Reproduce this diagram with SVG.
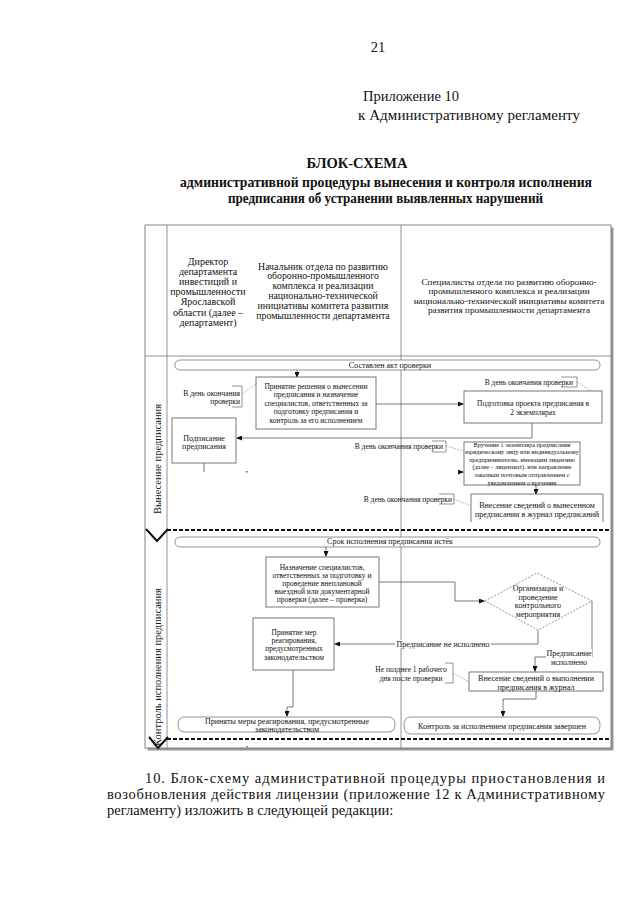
<svg xmlns="http://www.w3.org/2000/svg" width="640" height="905" viewBox="0 0 640 905">
<style>
.t{font-family:"Liberation Serif","Times New Roman",serif;fill:#111}
.c{text-anchor:middle;dominant-baseline:central}
.r{text-anchor:end;dominant-baseline:central}
.box{fill:#fff;stroke:#555;stroke-width:0.8}
.ev{fill:#fff;stroke:#666;stroke-width:0.7}
.conn{fill:none;stroke:#555;stroke-width:0.8}
.lane{fill:none;stroke:#777;stroke-width:0.8}
.dash{fill:none;stroke:#111;stroke-width:2;stroke-dasharray:4 2}
.chev{fill:none;stroke:#111;stroke-width:2}
.br{fill:none;stroke:#666;stroke-width:0.7}
.lead{fill:none;stroke:#666;stroke-width:0.6;stroke-dasharray:1.5 1.5}
.lbl{fill:#fff}
.f7{font-size:7.5px}
.f8{font-size:8px}
.f6{font-size:6.2px}
</style>
<defs>
<marker id="ah" markerWidth="6" markerHeight="5" refX="5" refY="2.5" orient="auto" markerUnits="userSpaceOnUse">
<path d="M0,0 L6,2.5 L0,5 Z" fill="#111"/>
</marker>
</defs>
<rect width="640" height="905" fill="#fff"/>

<!-- page header -->
<g id="page-header">
<text class="t" x="378" y="52" font-size="14.5" text-anchor="middle">21</text>
<text class="t" x="363" y="101" font-size="14.5">Приложение 10</text>
<text class="t" x="358" y="120" font-size="15" textLength="222" lengthAdjust="spacing">к Административному регламенту</text>
<text class="t" x="357" y="168" font-size="14.5" font-weight="bold" text-anchor="middle">БЛОК-СХЕМА</text>
<text class="t" x="180" y="187" font-size="13.8" font-weight="bold" textLength="412" lengthAdjust="spacingAndGlyphs">административной процедуры вынесения и контроля исполнения</text>
<text class="t" x="228" y="203" font-size="13.8" font-weight="bold" textLength="315" lengthAdjust="spacingAndGlyphs">предписания об устранении выявленных нарушений</text>
</g>

<!-- frame and lanes -->
<g id="frame">
<rect x="147.5" y="227.5" width="466" height="523" fill="#999"/>
<rect x="145" y="225" width="466" height="523" fill="#fff" stroke="#777" stroke-width="0.9"/>
<line class="lane" x1="167" y1="225" x2="167" y2="748"/>
<line class="lane" x1="401" y1="225" x2="401" y2="748"/>
<line class="lane" x1="145" y1="356" x2="611" y2="356"/>
<line class="dash" x1="167" y1="530" x2="611" y2="530"/>
<line class="dash" x1="167" y1="739" x2="611" y2="739"/>
<polyline class="chev" points="146,529 157,541 168,529"/>
<polyline class="chev" points="149,737 158,748 168,737"/>
<text class="t c" font-size="10.5" transform="translate(157,459) rotate(-90)">Вынесение предписания</text>
<text class="t c" font-size="10.5" transform="translate(157,667) rotate(-90)">Контроль исполнения предписания</text>
</g>

<!-- column headers -->
<g id="hdr-director">
<text class="t c" font-size="10" x="208" y="261">Директор</text>
<text class="t c" font-size="10" x="208" y="271">департамента</text>
<text class="t c" font-size="10" x="208" y="281">инвестиций и</text>
<text class="t c" font-size="10" x="208" y="291">промышленности</text>
<text class="t c" font-size="10" x="208" y="301">Ярославской</text>
<text class="t c" font-size="10" x="208" y="312">области (далее –</text>
<text class="t c" font-size="10" x="208" y="322">департамент)</text>
</g>
<g id="hdr-head">
<text class="t c" font-size="9.8" x="323" y="266">Начальник отдела по развитию</text>
<text class="t c" font-size="9.8" x="323" y="275.5">оборонно-промышленного</text>
<text class="t c" font-size="9.8" x="323" y="285">комплекса и реализации</text>
<text class="t c" font-size="9.8" x="323" y="295.5">национально-технической</text>
<text class="t c" font-size="9.8" x="323" y="305">инициативы комитета развития</text>
<text class="t c" font-size="9.8" x="323" y="315.5">промышленности департамента</text>
</g>
<g id="hdr-specialists">
<text class="t c" font-size="9.2" x="509" y="282">Специалисты отдела по развитию оборонно-</text>
<text class="t c" font-size="9.2" x="509" y="291">промышленного комплекса и реализации</text>
<text class="t c" font-size="9.2" x="509" y="300.5">национально-технической инициативы комитета</text>
<text class="t c" font-size="9.2" x="509" y="309.5">развития промышленности департамента</text>
</g>

<!-- connectors -->
<g id="connectors">
<path class="conn" d="M297,370 V377" marker-end="url(#ah)"/>
<path class="conn" d="M376,404 H463" marker-end="url(#ah)"/>
<path class="conn" d="M532,423 V438 H237" marker-end="url(#ah)"/>
<path class="conn" d="M204,463 V472"/>
<rect x="246" y="471" width="1.5" height="1.5" fill="#555"/>
<path class="conn" d="M458,472 H463" marker-end="url(#ah)"/>
<path class="conn" d="M536,485 V494" marker-end="url(#ah)"/>
<path class="conn" d="M326,547 V556" marker-end="url(#ah)"/>
<rect x="247" y="546" width="2" height="1" fill="#777"/>
<path class="conn" d="M379,582 H455 V601 H484" marker-end="url(#ah)"/>
<path class="conn" d="M538,630 V644 H335" marker-end="url(#ah)"/>
<path class="conn" d="M592,601 V657 H535 V671" marker-end="url(#ah)"/>
<path class="conn" d="M293,670 V707 H287 V716" marker-end="url(#ah)"/>
<path class="conn" d="M536,691 V699 H503 V716" marker-end="url(#ah)"/>
<rect x="246.5" y="746" width="1.5" height="1.5" fill="#777"/>
<rect class="lbl" x="395" y="640" width="96" height="8"/>
<text class="t c f8" x="443" y="644">Предписание не исполнено</text>
<rect class="lbl" x="546" y="649" width="46" height="17"/>
<text class="t c f8" x="569" y="653">Предписание</text>
<text class="t c f8" x="569" y="662">исполнено</text>
</g>

<!-- lane 1 -->
<g id="ev-act">
<path class="ev" d="M181,360 H594 Q600,360 600,365 Q600,370 594,370 H181 Q175,370 175,365 Q175,360 181,360 Z"/>
<text class="t c f8" x="390" y="365">Составлен акт проверки</text>
</g>
<g id="n-decision">
<rect class="box" x="256" y="377" width="120" height="52"/>
<text class="t c f7" x="316" y="386">Принятие решения о вынесении</text>
<text class="t c f7" x="316" y="394.5">предписания и назначение</text>
<text class="t c f7" x="316" y="403">специалистов, ответственных за</text>
<text class="t c f7" x="316" y="411.5">подготовку предписания и</text>
<text class="t c f7" x="316" y="420">контроль за его исполнением</text>
</g>
<g id="ann-1">
<text class="t r f7" x="240" y="393">В день окончания</text>
<text class="t r f7" x="240" y="401">проверки</text>
<path class="br" d="M232,386 H242 V407 H232"/>
<path class="lead" d="M242,394 L257,383"/>
</g>
<g id="n-sign">
<rect class="box" x="172" y="418" width="64" height="45"/>
<text class="t c f8" x="204" y="438">Подписание</text>
<text class="t c f8" x="204" y="446">предписания</text>
</g>
<g id="n-draft">
<rect class="box" x="464" y="391" width="138" height="32"/>
<text class="t c f7" x="533" y="403">Подготовка проекта предписания в</text>
<text class="t c f7" x="533" y="412">2 экземплярах</text>
</g>
<g id="ann-2">
<text class="t r f7" x="573" y="382">В день окончания проверки</text>
<path class="br" d="M561,377 H577 V387 H561"/>
<path class="lead" d="M577,382 L591,391"/>
</g>
<g id="n-deliver">
<rect class="box" x="464" y="442" width="116" height="43"/>
<text class="t c f6" x="522" y="444">Вручение 1 экземпляра предписания</text>
<text class="t c f6" x="522" y="451.6">юридическому лицу или индивидуальному</text>
<text class="t c f6" x="522" y="459.2">предпринимателю, имеющим лицензию</text>
<text class="t c f6" x="522" y="466.8">(далее – лицензиат), или направление</text>
<text class="t c f6" x="522" y="474.4">заказным почтовым отправлением с</text>
<text class="t c f6" x="522" y="482">уведомлением о вручении</text>
</g>
<g id="ann-3">
<text class="t r f7" x="443" y="446">В день окончания проверки</text>
<path class="br" d="M432,441 H446 V452 H432"/>
<path class="lead" d="M446,446 L464,451"/>
</g>
<g id="n-register">
<path class="box" d="M471,522 V494 H603 V522"/>
<text class="t c f8" x="537" y="505">Внесение сведений о вынесенном</text>
<text class="t c f8" x="537" y="514">предписании в журнал предписаний</text>
</g>
<g id="ann-4">
<text class="t r f7" x="452" y="499">В день окончания проверки</text>
<path class="br" d="M439,494 H454 V504 H439"/>
<path class="lead" d="M454,499 L471,506"/>
</g>

<!-- lane 2 -->
<g id="ev-deadline">
<path class="ev" d="M181,537 H594 Q600,537 600,542 Q600,547 594,547 H181 Q175,547 175,542 Q175,537 181,537 Z"/>
<text class="t c f8" x="390" y="541">Срок исполнения предписания истёк</text>
</g>
<g id="n-assign">
<rect class="box" x="266" y="557" width="113" height="50"/>
<text class="t c f7" x="322" y="567">Назначение специалистов,</text>
<text class="t c f7" x="322" y="575">ответственных за подготовку и</text>
<text class="t c f7" x="322" y="583">проведение внеплановой</text>
<text class="t c f7" x="322" y="591">выездной или документарной</text>
<text class="t c f7" x="322" y="599">проверки (далее – проверка)</text>
</g>
<g id="n-control">
<polygon points="485,601 537,573 592,601 538,630" fill="#fff" stroke="#666" stroke-width="0.7" stroke-dasharray="2 1.5"/>
<text class="t c f8" x="538" y="588">Организация и</text>
<text class="t c f8" x="538" y="597">проведение</text>
<text class="t c f8" x="538" y="605.5">контрольного</text>
<text class="t c f8" x="538" y="614">мероприятия</text>
</g>
<g id="n-measures">
<rect class="box" x="253" y="618" width="81" height="52"/>
<text class="t c f7" x="294" y="632">Принятие мер</text>
<text class="t c f7" x="294" y="640">реагирования,</text>
<text class="t c f7" x="294" y="648.5">предусмотренных</text>
<text class="t c f7" x="294" y="657">законодательством</text>
</g>
<g id="ann-5">
<text class="t c f7" x="411" y="669">Не позднее 1 рабочего</text>
<text class="t c f7" x="411" y="678">дня после проверки</text>
<path class="br" d="M445,663 H453 V683 H445"/>
<path class="lead" d="M453,673 L469,682"/>
</g>
<g id="n-record">
<rect class="box" x="469" y="672" width="134" height="19"/>
<text class="t c f8" x="536" y="678">Внесение сведений о выполнении</text>
<text class="t c f8" x="536" y="687">предписания в журнал</text>
</g>
<g id="ev-measures">
<path class="ev" d="M185,717 H388 Q395,717 395,724.5 Q395,732 388,732 H185 Q178,732 178,724.5 Q178,717 185,717 Z"/>
<text class="t c f8" x="287" y="721">Приняты меры реагирования, предусмотренные</text>
<text class="t c f8" x="287" y="729">законодательством</text>
</g>
<g id="ev-done">
<path class="ev" d="M411,717 H593 Q600,717 600,725.5 Q600,734 593,734 H411 Q404,734 404,725.5 Q404,717 411,717 Z"/>
<text class="t c f8" x="502" y="726">Контроль за исполнением предписания завершен</text>
</g>

<!-- bottom paragraph -->
<g id="paragraph">
<text class="t" x="145" y="783" font-size="14.5" textLength="460" lengthAdjust="spacing">10. Блок-схему административной процедуры приостановления и</text>
<text class="t" x="107" y="799" font-size="14.5" textLength="498" lengthAdjust="spacing">возобновления действия лицензии (приложение 12 к Административному</text>
<text class="t" x="107" y="815" font-size="14.5">регламенту) изложить в следующей редакции:</text>
</g>
</svg>
